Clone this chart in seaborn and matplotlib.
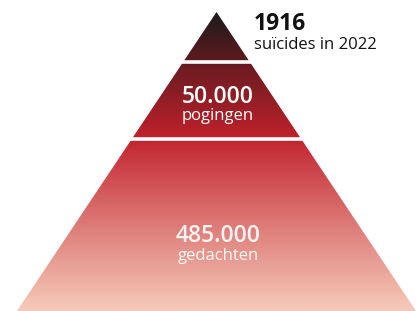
import numpy as np
import matplotlib
matplotlib.use("Agg")
import matplotlib.pyplot as plt
from matplotlib.colors import LinearSegmentedColormap
from matplotlib.patches import Polygon
import seaborn as sns

# tiers, top to bottom
numbers = ["1916", "50.000", "485.000"]
labels = ["suïcides in 2022", "pogingen", "gedachten"]

sns.set_theme(style="white")
plt.rcParams["font.family"] = ["Open Sans", "DejaVu Sans"]

W, H = 417, 311
fig = plt.figure(figsize=(W / 100, H / 100), dpi=100)
ax = fig.add_axes([0, 0, 1, 1])
ax.set_xlim(0, W)
ax.set_ylim(H, 0)
ax.axis("off")

apex = (216.5, 12)
base_l, base_r, base_y = 17, 416, 311
cuts = [12, 61.5, 138.5, 311]  # tier boundaries (pixel rows)

# vertical gradient: near black at apex -> red -> pale pink at base
stops = [(0.0, "#1c1c1c"), (0.16, "#5e1a1f"), (0.19, "#6f1c22"),
         (0.42, "#c0212b"), (0.45, "#c52d36"), (0.73, "#df7f7b"),
         (1.0, "#f6cab9")]
cmap = LinearSegmentedColormap.from_list("pyr", stops)
grad = np.linspace(0, 1, 400).reshape(-1, 1)
im = ax.imshow(grad, cmap=cmap, aspect="auto",
               extent=[base_l, base_r, base_y, apex[1]], zorder=1)
tri = Polygon([apex, (base_l, base_y), (base_r, base_y)], closed=True,
              transform=ax.transData, facecolor="none", edgecolor="none")
ax.add_patch(tri)
im.set_clip_path(tri)

# white gaps between tiers
for y in cuts[1:3]:
    ax.axhline(y, color="white", lw=2.6, zorder=2)

# labels
ax.text(254, 24, numbers[0], fontsize=16.5, fontweight="bold",
        color="#111111", va="center", ha="left")
ax.text(254, 45, labels[0], fontsize=12, color="#111111",
        va="center", ha="left")
ax.text(218, 97, numbers[1], fontsize=16.5, fontweight="semibold",
        color="white", va="center", ha="center")
ax.text(218, 116, labels[1], fontsize=12, color="white",
        va="center", ha="center")
ax.text(218, 236, numbers[2], fontsize=16.5, fontweight="semibold",
        color="white", alpha=0.92, va="center", ha="center")
ax.text(218, 256, labels[2], fontsize=12, color="white",
        alpha=0.92, va="center", ha="center")

fig.savefig("out.png", dpi=100)
